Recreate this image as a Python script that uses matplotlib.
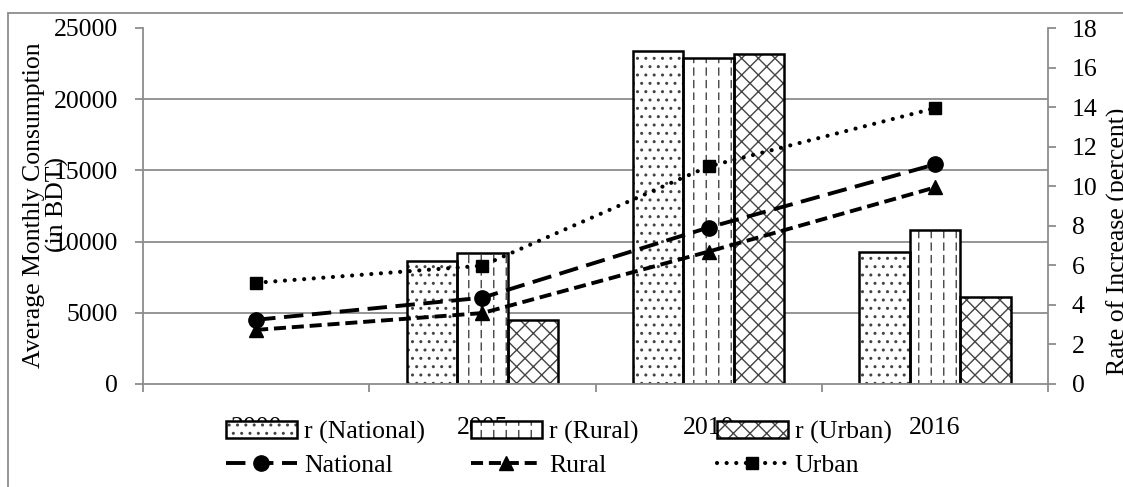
import warnings
import numpy as np
import matplotlib
matplotlib.use('Agg')
import matplotlib.pyplot as plt
from matplotlib import hatch as mhatch
from matplotlib.path import Path
from matplotlib.patches import Patch, Rectangle
from matplotlib.legend_handler import HandlerTuple

warnings.filterwarnings('ignore')

# Data
years = ['2000', '2005', '2010', '2016']
cons_national = [4510, 6060, 10990, 15420]
cons_rural = [3800, 4980, 9300, 13800]
cons_urban = [7110, 8310, 15280, 19370]
rate_national = [np.nan, 6.2, 16.85, 6.66]
rate_rural = [np.nan, 6.6, 16.46, 7.77]
rate_urban = [np.nan, 3.23, 16.68, 4.39]


# dashed vertical hatch (Excel style), selected with '!'
class DashedVertical(mhatch.HatchPatternBase):
    def __init__(self, hatch, density):
        self.num_lines = hatch.count('!') * 8
        self.num_dashes = 8
        self.num_vertices = self.num_lines * self.num_dashes * 2

    def set_vertices_and_codes(self, vertices, codes):
        k = 0
        for i in range(self.num_lines):
            xx = (i + 0.5) / self.num_lines
            for j in range(self.num_dashes):
                y0 = j / self.num_dashes
                vertices[k] = (xx, y0)
                vertices[k + 1] = (xx, y0 + 0.55 / self.num_dashes)
                codes[k] = Path.MOVETO
                codes[k + 1] = Path.LINETO
                k += 2


mhatch._hatch_types.append(DashedVertical)

plt.rcParams['font.family'] = ['Liberation Serif', 'DejaVu Serif']
plt.rcParams['font.size'] = 18.5
plt.rcParams['hatch.linewidth'] = 1.0

grey = '#8c8c8c'
fig = plt.figure(figsize=(11.23, 4.87), dpi=100)
ax = fig.add_axes([143 / 1123, 1 - 384 / 487, (1048 - 143) / 1123, (384 - 28) / 487])
ax2 = ax.twinx()

x = np.arange(len(years))
w = 0.223
bar_sets = [(rate_national, '..', 'r (National)'),
            (rate_rural, '!', 'r (Rural)'),
            (rate_urban, 'xx', 'r (Urban)')]
bar_handles = []
for k, (vals, h, lab) in enumerate(bar_sets):
    pos = x + (k - 1) * w
    ax2.bar(pos, vals, w, color='white', edgecolor='#444444', hatch=h,
            linewidth=0, zorder=2)
    ax2.bar(pos, vals, w, fill=False, edgecolor='black', linewidth=1.8, zorder=3)
    bar_handles.append((Patch(facecolor='white', edgecolor='#444444', hatch=h, linewidth=0),
                        Patch(fill=False, edgecolor='black', linewidth=1.8)))

line_styles = [(cons_national, (5, 2.2), 'o', 11, 2.8, 'National'),
               (cons_rural, (3.1, 1.5), '^', 10, 2.8, 'Rural'),
               (cons_urban, (0.01, 2.3), 's', 9, 3.0, 'Urban')]
line_handles = []
for vals, dash, mk, ms, lw, lab in line_styles:
    ln, = ax.plot(x, vals, color='black', lw=lw, dashes=dash, marker=mk, ms=ms,
                  dash_capstyle='round' if mk == 's' else 'butt', zorder=5)
    line_handles.append(ln)

# axes limits and ticks
ax.set_xlim(-0.5, 3.5)
ax.set_ylim(0, 25000)
ax2.set_ylim(0, 18)
ax.set_yticks(np.arange(0, 25001, 5000))
ax2.set_yticks(np.arange(0, 19, 2))
ax.set_xticks(x, years)
ax.set_xticks(np.arange(-0.5, 4, 1), minor=True)
ax.tick_params(axis='x', which='major', length=0, pad=24)
ax.tick_params(axis='x', which='minor', length=6, width=1.3, color=grey)
ax.tick_params(axis='y', length=6, width=1.3, color=grey, pad=12)
ax2.tick_params(axis='y', length=6, width=1.3, color=grey, pad=11)

# gridlines at left-axis steps, kept behind the bars
ax2.set_yticks(np.linspace(0, 18, 6), minor=True)
ax2.tick_params(axis='y', which='minor', length=0)
ax2.grid(which='minor', axis='y', color=grey, linewidth=1.3)
ax2.set_axisbelow(True)

ax.set_zorder(ax2.get_zorder() + 1)
ax.patch.set_visible(False)

for s in ['top', 'right']:
    ax.spines[s].set_visible(False)
for s in ['top', 'left', 'bottom']:
    ax2.spines[s].set_visible(False)
for s in ['left', 'bottom']:
    ax.spines[s].set_color(grey)
    ax.spines[s].set_linewidth(1.3)
ax2.spines['right'].set_color(grey)
ax2.spines['right'].set_linewidth(1.3)

# axis titles
fig.text(46 / 1123, 1 - 205 / 487, 'Average Monthly Consumption\n(in BDT)',
         rotation=90, ha='center', va='center', multialignment='center',
         linespacing=1.05)
fig.text(1107 / 1123, 1 - 375 / 487, 'Rate of Increase (percent)',
         rotation=90, ha='left', va='bottom')

# legends, one column per series
col_x = [226, 471, 717]
for k in range(3):
    fig.legend([bar_handles[k], line_handles[k]],
               [bar_sets[k][2], line_styles[k][5]],
               loc='upper left', bbox_to_anchor=(col_x[k] / 1123, 1 - 421 / 487),
               bbox_transform=fig.transFigure, frameon=False,
               borderpad=0, borderaxespad=0, handlelength=2.75,
               handleheight=0.6, handletextpad=0.28, labelspacing=0.42,
               handler_map={tuple: HandlerTuple(ndivide=1, pad=0)})

# chart border
fig.add_artist(Rectangle((8 / 1123, -0.1), 1.2, 1.1 - 13 / 487,
                         transform=fig.transFigure, fill=False,
                         edgecolor=grey, linewidth=1.3))

fig.savefig('out.png', dpi=100)
